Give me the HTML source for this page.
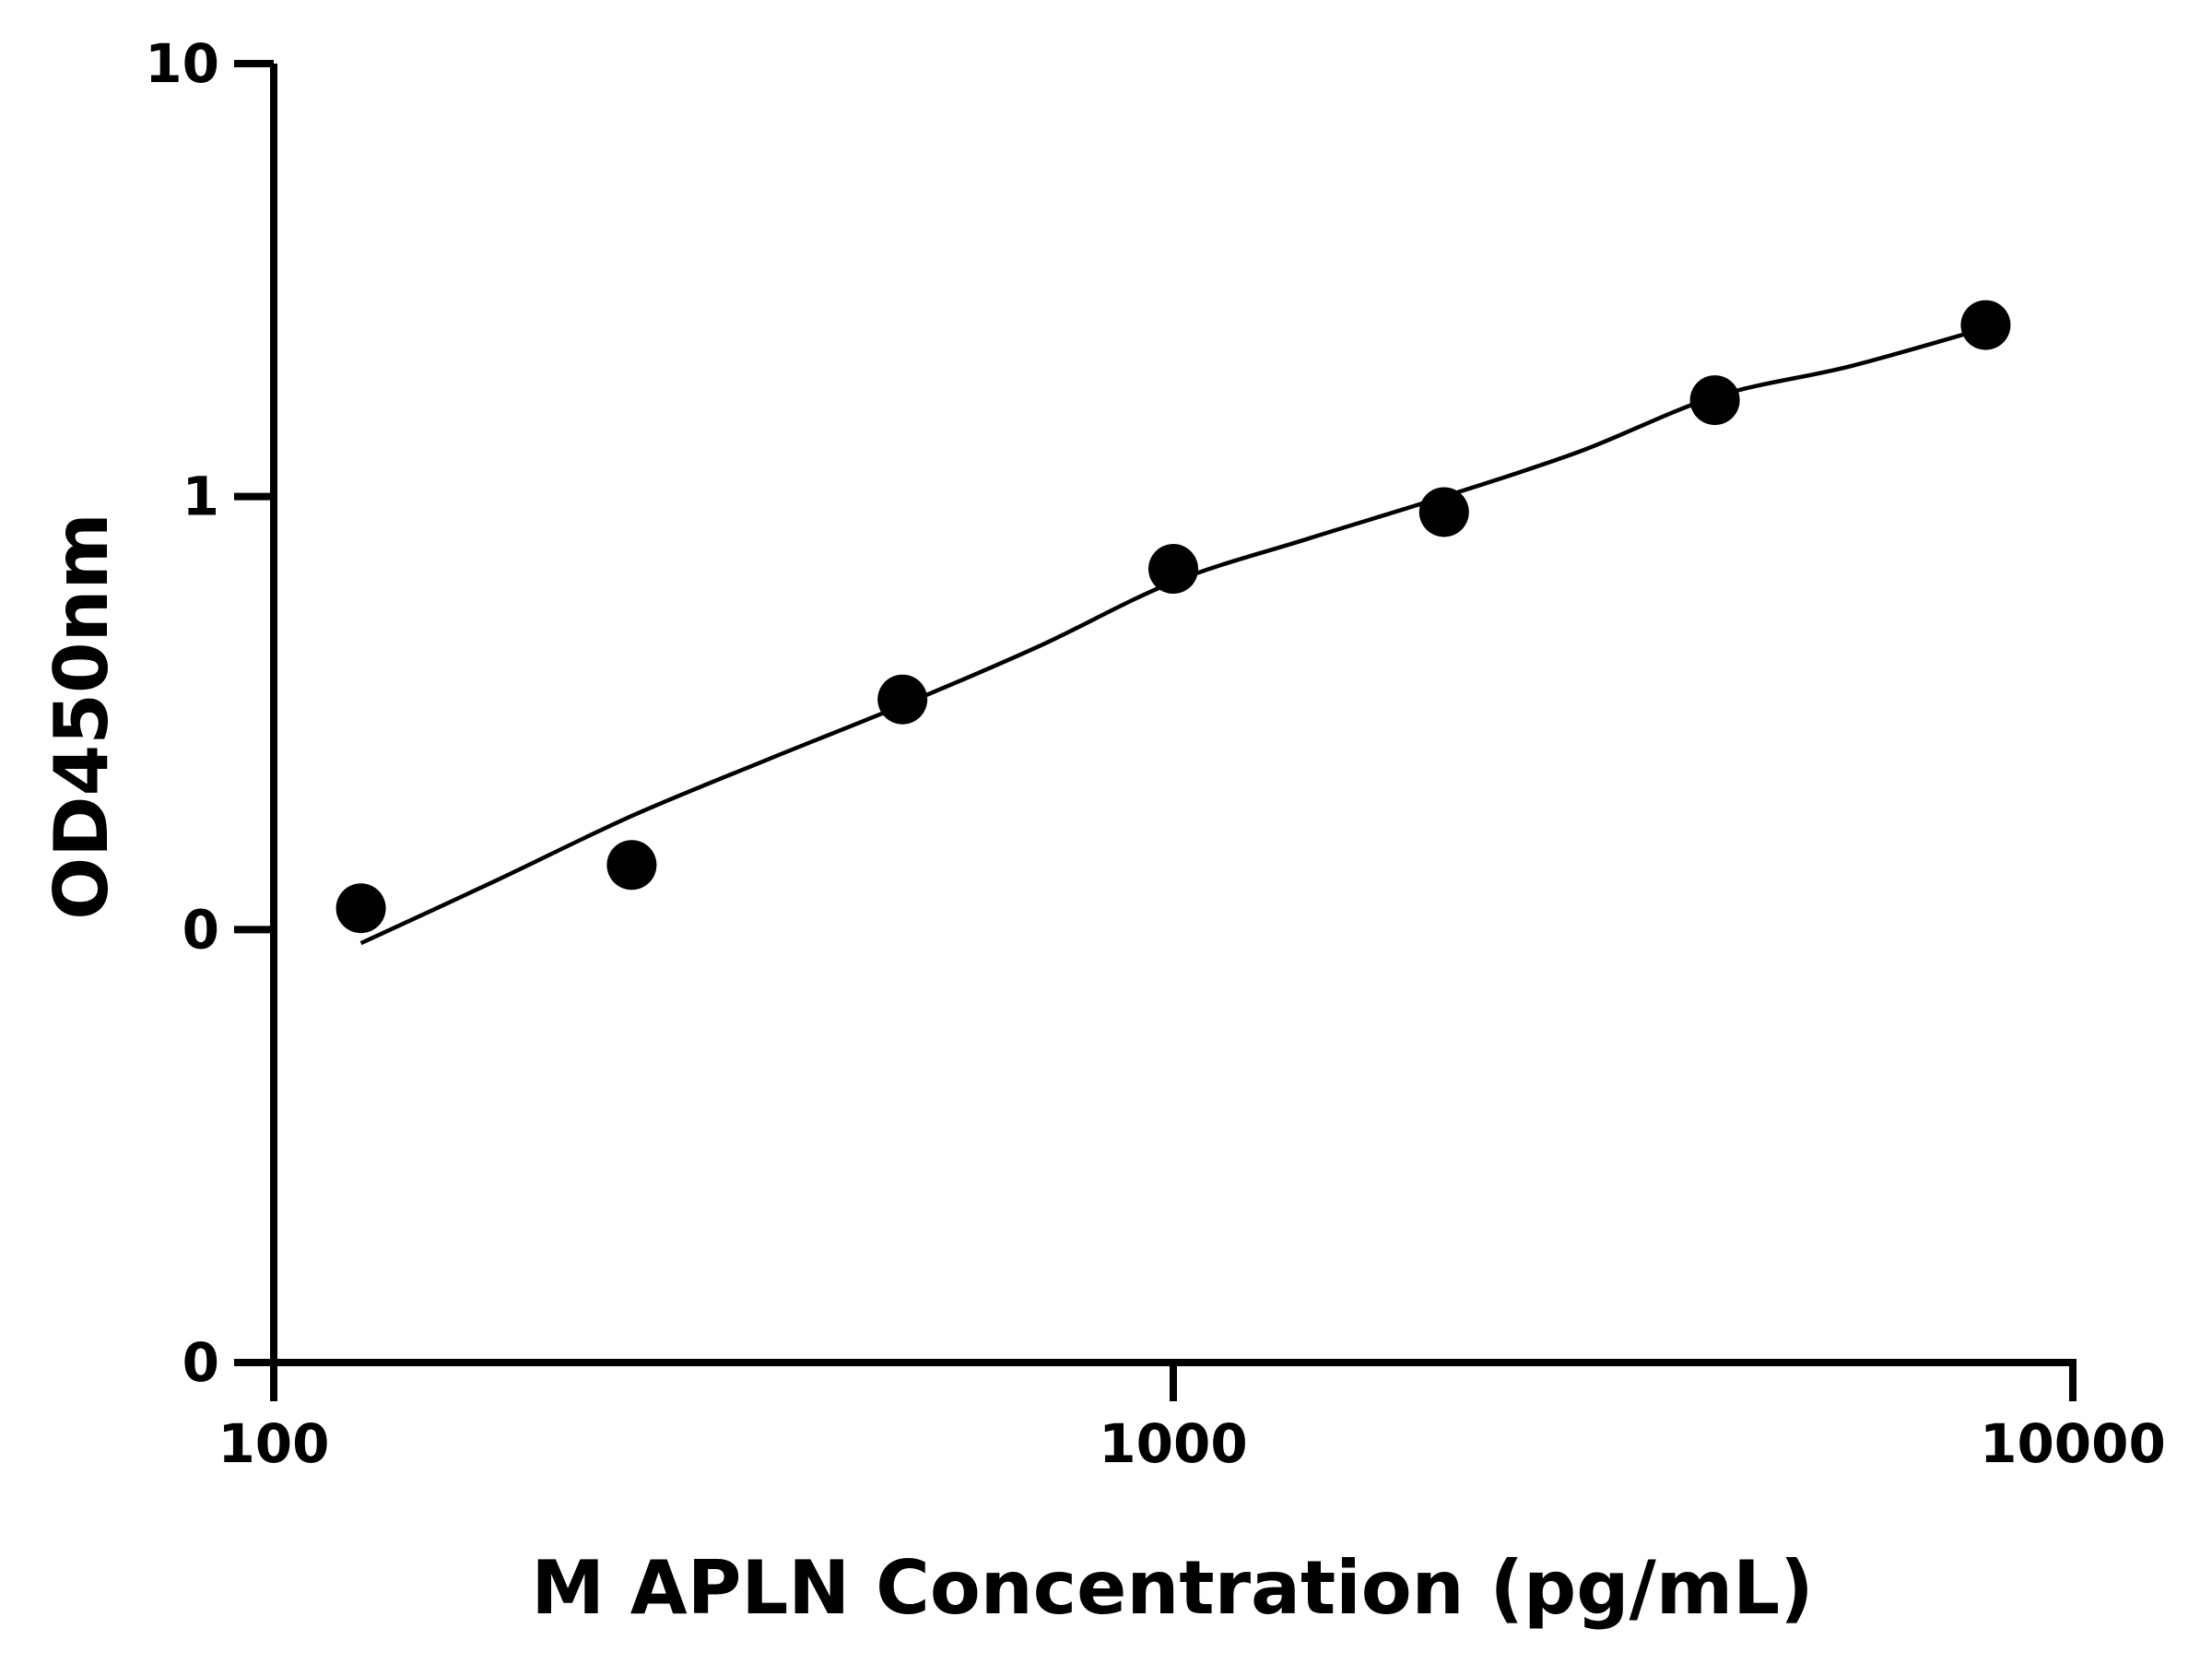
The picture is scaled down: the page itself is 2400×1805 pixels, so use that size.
<!DOCTYPE html>
<html><head><meta charset="utf-8"><style>
html,body{margin:0;padding:0;background:#fff;}
svg text{font-family:"DejaVu Sans","Liberation Sans",sans-serif;font-weight:bold;fill:#000;}
</style></head><body>
<svg id="chart" width="2400" height="1800" viewBox="0 0 2400 1800" xmlns="http://www.w3.org/2000/svg">
<g id="axes"></g>
<g id="curve"></g>
<g id="points"></g>
<text x="0" y="0" font-size="80" text-anchor="middle" transform="translate(116,777) rotate(-90)">OD450nm</text>
<text x="1272" y="1750" font-size="80" text-anchor="middle">M APLN Concentration (pg/mL)</text>
</svg>
<script>
const pointConc = [125, 250, 500, 1000, 2000, 4000, 8000];
const pointOD = [0.112, 0.141, 0.34, 0.681, 0.921, 1.67, 2.49];
const curveConc = [125, 177, 250, 354, 500, 707, 1000, 1414, 2000, 2828, 4000, 5657, 8000];
const curveOD = [0.093, 0.130, 0.183, 0.247, 0.33, 0.45, 0.635, 0.80, 1.0, 1.27, 1.7, 2.0, 2.45];
const xTicks = [100, 1000, 10000];
const xTickLabels = ["100", "1000", "10000"];
const yTicks = [10, 1, 0.1, 0.01];
const yTickLabels = ["10", "1", "0", "0"];

const NS = "http://www.w3.org/2000/svg";
const X0 = 297, X1 = 2249, Y0 = 1478, Y1 = 69;
function xs(v){ return X0 + (Math.log10(v) - 2) / 2 * (X1 - X0); }
function ys(v){ return Y0 - (Math.log10(v) + 2) / 3 * (Y0 - Y1); }
function mk(tag, attrs, parent){ const e = document.createElementNS(NS, tag); for (const k in attrs) e.setAttribute(k, attrs[k]); parent.appendChild(e); return e; }

const axes = document.getElementById("axes");
let e = mk("line", {x1:X0, y1:Y1, x2:X0, y2:Y0+4, stroke:"#000", "stroke-width":8}, axes);


e = mk("line", {x1:X0-4, y1:Y0, x2:X1+4, y2:Y0, stroke:"#000", "stroke-width":8}, axes);


yTicks.forEach((t, i) => {
  const y = ys(t);
  const l = mk("line", {x1:254, y1:y, x2:X0, y2:y, stroke:"#000", "stroke-width":8}, axes);
  
  
  const tx = mk("text", {x:238, y:y+20, "font-size":58, "text-anchor":"end"}, axes);
  tx.textContent = yTickLabels[i];
  
  
});
xTicks.forEach((t, i) => {
  const x = xs(t);
  const l = mk("line", {x1:x, y1:Y0, x2:x, y2:1520, stroke:"#000", "stroke-width":8}, axes);
  
  
  const tx = mk("text", {x:x, y:1586, "font-size":58, "text-anchor":"middle"}, axes);
  tx.textContent = xTickLabels[i];
  
  
});

// curve: Catmull-Rom through sample points
const pts = curveConc.map((c, i) => [xs(c), ys(curveOD[i])]);
let d = "M" + pts[0][0] + "," + pts[0][1];
for (let i = 0; i < pts.length - 1; i++) {
  const p0 = pts[Math.max(0, i-1)], p1 = pts[i], p2 = pts[i+1], p3 = pts[Math.min(pts.length-1, i+2)];
  const c1 = [p1[0] + (p2[0]-p0[0])/6, p1[1] + (p2[1]-p0[1])/6];
  const c2 = [p2[0] - (p3[0]-p1[0])/6, p2[1] - (p3[1]-p1[1])/6];
  d += " C" + c1[0] + "," + c1[1] + " " + c2[0] + "," + c2[1] + " " + p2[0] + "," + p2[1];
}
const path = mk("path", {d:d, fill:"none", stroke:"#000", "stroke-width":4.5}, document.getElementById("curve"));



const pg = document.getElementById("points");
pointConc.forEach((c, i) => {
  const p = mk("circle", {cx:xs(c), cy:ys(pointOD[i]), r:27, fill:"#000"}, pg);
  
  
});
</script>
</body></html>
